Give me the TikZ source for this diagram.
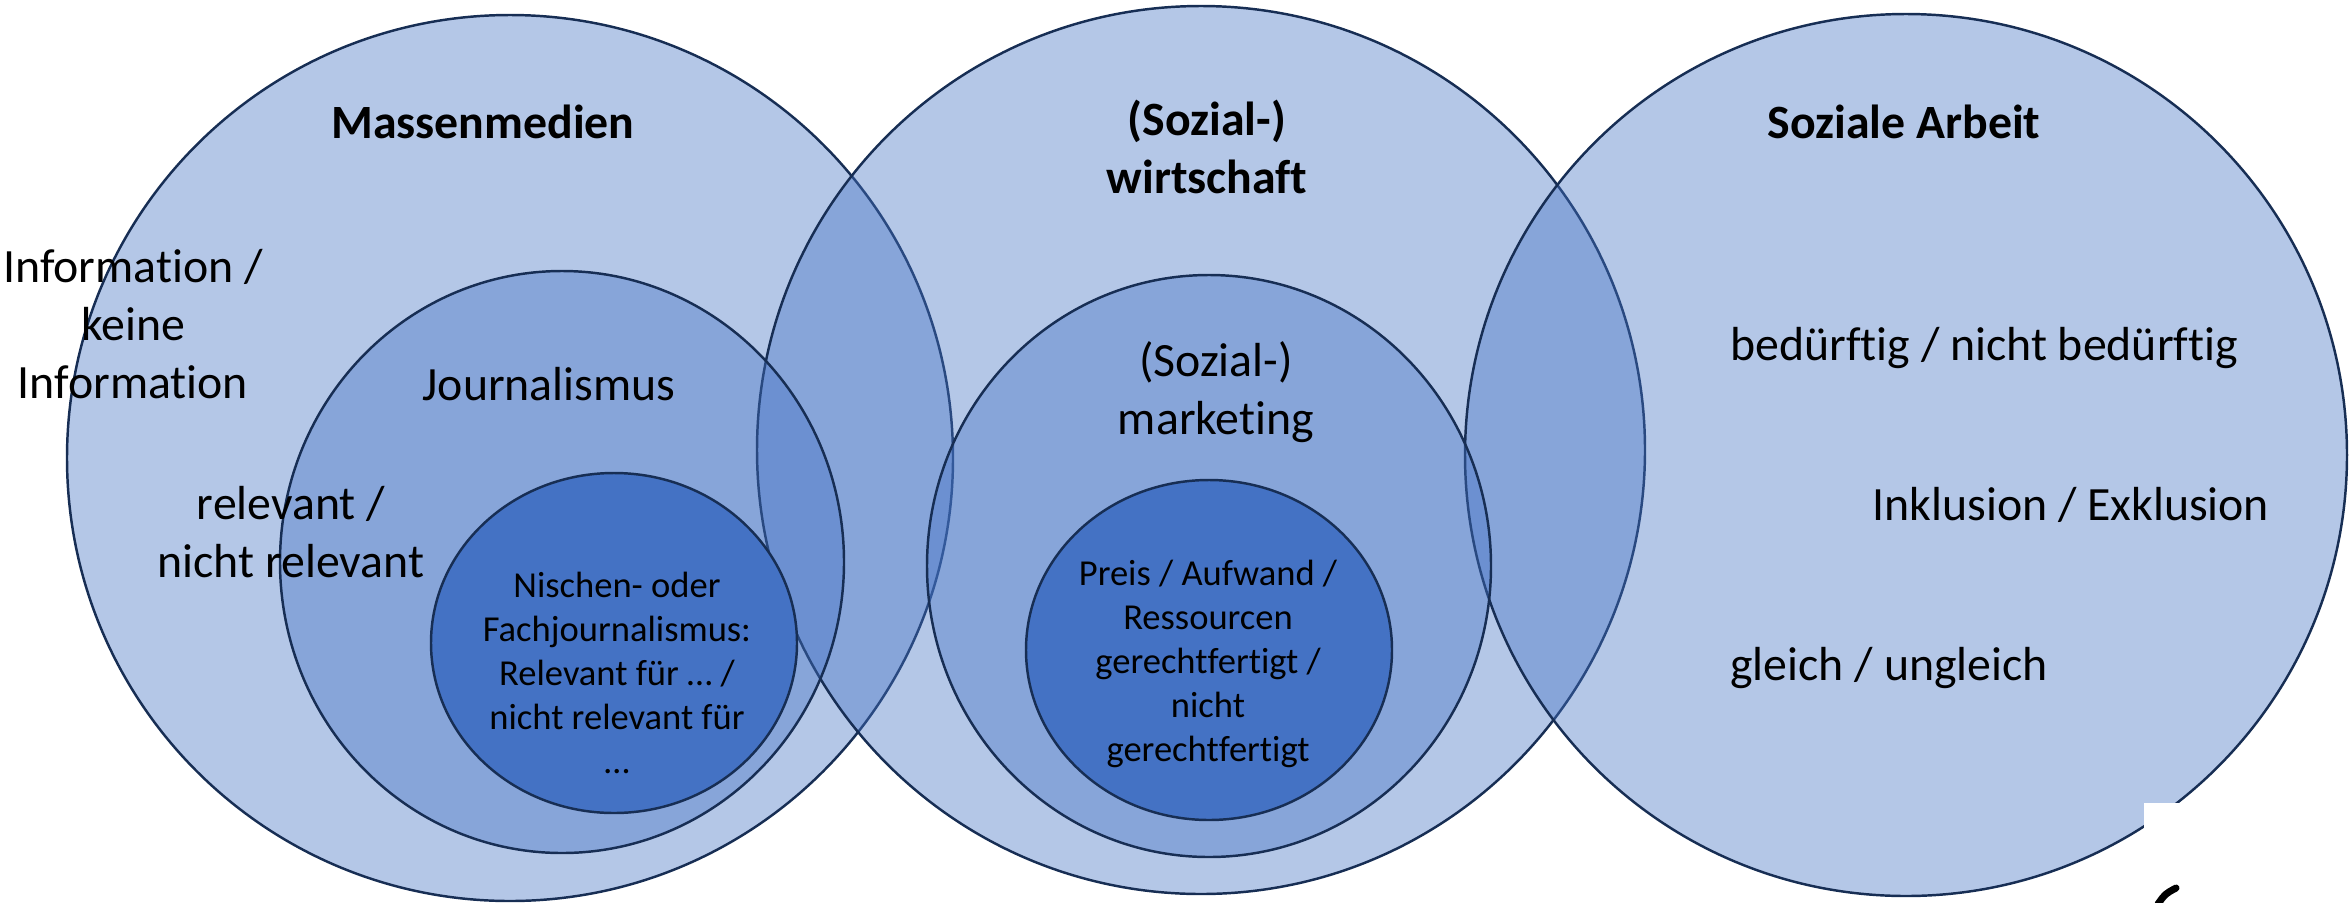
\documentclass[tikz,border=0pt]{standalone}
\usepackage{fontspec}
\setmainfont{Carlito}[Ligatures=NoCommon]
\usetikzlibrary{shapes.geometric}
\definecolor{kreis}{RGB}{68,114,196}
\definecolor{rand}{RGB}{23,46,84}
\begin{document}
\begin{tikzpicture}[line join=round,line cap=round,
	menge/.style={ellipse,draw=rand,line width=0.7pt,fill=kreis,fill opacity=0.4,inner sep=0pt},
	kern/.style={ellipse,draw=rand,line width=0.7pt,fill=kreis,inner sep=0pt},
	gross/.style={font=\fontsize{13.6}{16.4}\selectfont,align=center},
	klein/.style={font=\fontsize{10.4}{12.5}\selectfont,align=center},
	titel/.style={font=\fontsize{13.6}{16.4}\selectfont\bfseries,align=center}]
		\useasboundingbox (0,0) rectangle (23.49,9.02);
		\node[menge,minimum width=8.86cm,minimum height=8.86cm] (medien) at (5.10,4.44) {};
		\node[menge,minimum width=8.88cm,minimum height=8.88cm] (wirtschaft) at (12.01,4.52) {};
		\node[menge,minimum width=8.82cm,minimum height=8.82cm] (sozarbeit) at (19.06,4.47) {};
		\node[menge,minimum width=5.64cm,minimum height=5.82cm] (journal) at (5.62,3.40) {};
		\node[menge,minimum width=5.64cm,minimum height=5.82cm] (marketing) at (12.09,3.36) {};
		\node[kern,minimum width=3.66cm,minimum height=3.40cm] (nische) at (6.14,2.59) {};
		\node[kern,minimum width=3.66cm,minimum height=3.40cm] (preis) at (12.09,2.52) {};
		\fill[white] (21.44,0) rectangle (23.49,0.99);
		\draw[line width=2pt] (21.58,-0.02) .. controls (21.65,0.08) .. (21.76,0.14);
		\node[titel,anchor=base] (tmedien) at (4.83,7.64) {Massenmedien};
		\node[titel] (twirtschaft) at (12.07,7.55) {(Sozial-)\\wirtschaft};
		\node[titel,anchor=base] (tsozarbeit) at (19.04,7.64) {Soziale Arbeit};
		\node[gross] (info) at (1.33,5.78) {Information /\\keine\\Information};
		\node[gross] (relevant) at (2.91,3.70) {relevant /\\nicht relevant};
		\node[gross,anchor=base] (tjournal) at (5.49,5.02) {Journalismus};
		\node[gross] (tmarketing) at (12.16,5.10) {(Sozial-)\\marketing};
		\node[klein] (tnische) at (6.17,2.29) {Nischen- oder\\Fachjournalismus:\\Relevant für … /\\nicht relevant für\\…};
		\node[klein] (tpreis) at (12.08,2.38) {Preis / Aufwand /\\Ressourcen\\gerechtfertigt /\\nicht\\gerechtfertigt};
		\node[gross,anchor=base west] (bedarf) at (17.18,5.42) {bedürftig / nicht bedürftig};
		\node[gross,anchor=base west] (inklusion) at (18.60,3.82) {Inklusion / Exklusion};
		\node[gross,anchor=base west] (gleich) at (17.18,2.22) {gleich / ungleich};
\end{tikzpicture}
\end{document}
